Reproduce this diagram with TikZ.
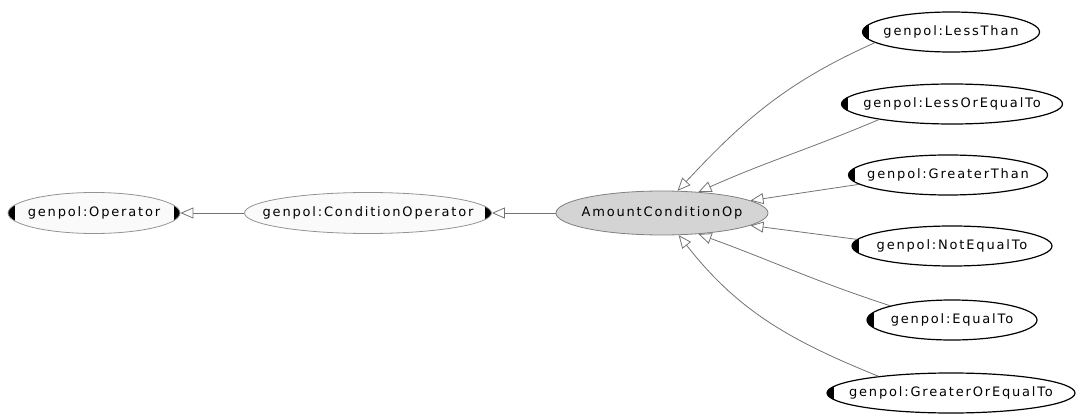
\documentclass[tikz,border=0pt]{standalone}
\usepackage{fontspec}
\usetikzlibrary{shapes.geometric,arrows.meta}
\newfontfamily\owlfont[LetterSpace=14]{DejaVu Sans}
\newcommand{\owl}[1]{\makebox[0pt][c]{#1}}

\begin{document}
\begin{tikzpicture}[x=1pt,y=1pt,
   cls/.style={ellipse,draw=black,line width=1.2pt,fill=white,inner sep=0pt,
      minimum height=40pt,font=\owlfont\fontsize{13}{15}\selectfont},
   sup/.style={cls,draw=gray!85,line width=.8pt,fill=black!2,minimum height=41pt},
   focus/.style={cls,draw=gray,line width=.8pt,fill=black!17,minimum height=44pt},
   leftmark/.style={path picture={\fill[black]
      ([xshift=-1pt,yshift=-30pt]path picture bounding box.west) rectangle
      ([xshift=6.5pt,yshift=30pt]path picture bounding box.west);}},
   rightmark/.style={path picture={\fill[black]
      ([xshift=1pt,yshift=-30pt]path picture bounding box.east) rectangle
      ([xshift=-6.5pt,yshift=30pt]path picture bounding box.east);}},
   bothmark/.style={path picture={\fill[black]
      ([xshift=-1pt,yshift=-30pt]path picture bounding box.west) rectangle
      ([xshift=6.5pt,yshift=30pt]path picture bounding box.west);
      \fill[black]
      ([xshift=1pt,yshift=-30pt]path picture bounding box.east) rectangle
      ([xshift=-6.5pt,yshift=30pt]path picture bounding box.east);}},
   isa/.style={draw=black!55,line width=.8pt,
      -{Triangle[length=13pt,width=11pt,fill=white]}}]
   \useasboundingbox (0,0) rectangle (1080,-417);

   \node[sup,bothmark,minimum width=172pt]   (c0) at (94,-213)  {\owl{genpol:Operator}};
   \node[sup,rightmark,minimum width=247pt]  (c1) at (368,-213) {\owl{genpol:ConditionOperator}};
   \node[focus,minimum width=212pt]          (c2) at (662,-213) {\owl{AmountConditionOp}};
   \node[cls,leftmark,minimum width=177pt]   (c3) at (951,-32)  {\owl{genpol:LessThan}};
   \node[cls,leftmark,minimum width=221pt]   (c4) at (952,-104) {\owl{genpol:LessOrEqualTo}};
   \node[cls,leftmark,minimum width=199pt]   (c5) at (948,-175) {\owl{genpol:GreaterThan}};
   \node[cls,leftmark,minimum width=200pt]   (c6) at (952,-246) {\owl{genpol:NotEqualTo}};
   \node[cls,leftmark,minimum width=170pt]   (c7) at (952,-320) {\owl{genpol:EqualTo}};
   \node[cls,leftmark,minimum width=248pt]   (c8) at (951,-393) {\owl{genpol:GreaterOrEqualTo}};

   \path (c1) edge[isa] (c0);
   \path (c2) edge[isa] (c1);
   \path (c3.188) edge[isa,out=204,in=47] (c2.55);
   \path (c4.192) edge[isa,out=203,in=24] (c2.30);
   \path (c5.186) edge[isa] (c2.8);
   \path (c6.176) edge[isa] (c2.-8);
   \path (c7.167) edge[isa,out=162,in=-20] (c2.-30);
   \path (c8.167) edge[isa,out=158,in=-52] (c2.-53);

\end{tikzpicture}
\end{document}
